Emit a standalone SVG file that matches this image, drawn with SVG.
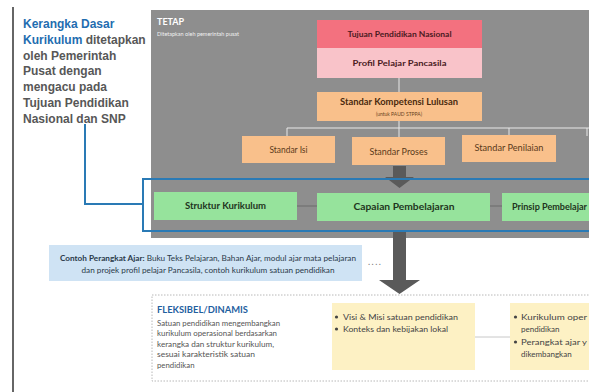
<svg xmlns="http://www.w3.org/2000/svg" width="589" height="392" viewBox="0 0 589 392">
<style>
.lt{font-family:"Liberation Sans",Arial,sans-serif;font-weight:bold;font-size:12px;fill:#575757}
.lb{fill:#1f6db0}
.s{font-family:Lato,"Open Sans",sans-serif}
.b{font-weight:bold}
.box{stroke:none}
.wl{stroke:#e8e8e8;stroke-width:1;fill:none}
.gl{stroke:#6a6a6a;stroke-width:1;fill:none}
.blue{stroke:#2a7ab5;stroke-width:2;fill:none}
</style>
<rect width="589" height="392" fill="#ffffff"/>
<line x1="13" y1="7" x2="13" y2="392" stroke="#333" stroke-width="1.5"/>

<g id="intro">
<text class="lt" x="23" y="28"><tspan class="lb">Kerangka Dasar</tspan></text>
<text class="lt" x="23" y="43.8"><tspan class="lb">Kurikulum</tspan> ditetapkan</text>
<text class="lt" x="23" y="59.6">oleh Pemerintah</text>
<text class="lt" x="23" y="75.4">Pusat dengan</text>
<text class="lt" x="23" y="91.2">mengacu pada</text>
<text class="lt" x="23" y="107">Tujuan Pendidikan</text>
<text class="lt" x="23" y="122.8">Nasional dan SNP</text>
</g>

<g id="tetap">
<rect x="151" y="10" width="438" height="228" fill="#8e8e8e"/>
<text class="s b" x="157" y="25" font-size="9" fill="#fff">TETAP</text>
<text class="s" x="157" y="36" font-size="5.5" fill="#f0f0f0">Ditetapkan oleh pemerintah pusat</text>
</g>

<g id="connectors">
<line class="wl" x1="399" y1="78" x2="399" y2="92"/>
<polyline class="wl" points="287,137 287,128 589,128"/>
<line class="wl" x1="399" y1="121" x2="399" y2="137"/>
<line class="wl" x1="509" y1="128" x2="509" y2="135"/>
<line class="wl" x1="587" y1="128" x2="587" y2="136"/>
<line class="gl" x1="297" y1="206" x2="317" y2="206"/>
<line class="gl" x1="490" y1="206" x2="502" y2="206"/>
<polyline class="blue" points="85,124 85,204 143,204"/>
<line x1="475" y1="337" x2="510" y2="337" stroke="#c8c8c8" stroke-width="1"/>
<text class="s" x="368" y="265" font-size="9" fill="#777" letter-spacing="1.5">....</text>
</g>

<g id="tujuan">
<rect class="box" x="317" y="20" width="165" height="28" fill="#f3717f"/>
<text class="s b" x="399.5" y="37" font-size="8.3" fill="#4a1a22" text-anchor="middle" textLength="104" lengthAdjust="spacingAndGlyphs">Tujuan Pendidikan Nasional</text>
</g>
<g id="profil">
<rect class="box" x="317" y="48" width="165" height="30" fill="#f9c3c9"/>
<text class="s b" x="399.5" y="66" font-size="8.3" fill="#4a1a22" text-anchor="middle" textLength="94" lengthAdjust="spacingAndGlyphs">Profil Pelajar Pancasila</text>
</g>
<g id="skl">
<rect class="box" x="317" y="92" width="165" height="29" fill="#f9c08b"/>
<text class="s b" x="399" y="105" font-size="8.5" fill="#4a2a0e" text-anchor="middle" textLength="118" lengthAdjust="spacingAndGlyphs">Standar Kompetensi Lulusan</text>
<text class="s" x="399" y="116" font-size="5" fill="#6a4420" text-anchor="middle">(untuk PAUD STPPA)</text>
</g>
<g id="standar-isi">
<rect class="box" x="242" y="136" width="93" height="27" fill="#f9c08b"/>
<text class="s" x="288.5" y="153" font-size="8.5" fill="#5a3a1a" text-anchor="middle" textLength="38" lengthAdjust="spacingAndGlyphs">Standar Isi</text>
</g>
<g id="standar-proses">
<rect class="box" x="352" y="137" width="93" height="28" fill="#f9c08b"/>
<text class="s" x="398.5" y="155" font-size="8.5" fill="#5a3a1a" text-anchor="middle" textLength="58" lengthAdjust="spacingAndGlyphs">Standar Proses</text>
</g>
<g id="standar-penilaian">
<rect class="box" x="462" y="135" width="94" height="27" fill="#f9c08b"/>
<text class="s" x="509" y="151" font-size="8.5" fill="#5a3a1a" text-anchor="middle" textLength="69" lengthAdjust="spacingAndGlyphs">Standar Penilaian</text>
</g>

<g id="arrow1">
<polygon points="393,166 406,166 406,177 414,177 399.5,188 385,177 393,177" fill="#5a5a5a"/>
</g>

<g id="kerangka">
<rect x="143" y="179" width="450" height="52" class="blue"/>
</g>
<g id="struktur">
<rect class="box" x="154" y="192" width="143" height="28" fill="#96e39c"/>
<text class="s b" x="225.5" y="209" font-size="8.5" fill="#1f3520" text-anchor="middle" textLength="81" lengthAdjust="spacingAndGlyphs">Struktur Kurikulum</text>
</g>
<g id="capaian">
<rect class="box" x="317" y="193" width="173" height="28" fill="#96e39c"/>
<text class="s b" x="404" y="210" font-size="8.5" fill="#1f3520" text-anchor="middle" textLength="101" lengthAdjust="spacingAndGlyphs">Capaian Pembelajaran</text>
</g>
<g id="prinsip">
<rect class="box" x="502" y="193" width="95" height="28" fill="#96e39c"/>
<text class="s b" x="512" y="210" font-size="8.5" fill="#1f3520" textLength="75" lengthAdjust="spacingAndGlyphs">Prinsip Pembelajar</text>
</g>

<g id="contoh">
<rect class="box" x="49" y="245" width="313" height="36" fill="#cfe3f4"/>
<text class="s" x="208" y="261" font-size="7.3" fill="#2a3a4a" text-anchor="middle" textLength="296" lengthAdjust="spacingAndGlyphs"><tspan font-weight="bold">Contoh Perangkat Ajar:</tspan> Buku Teks Pelajaran, Bahan Ajar, modul ajar mata pelajaran</text>
<text class="s" x="208" y="272.5" font-size="7.3" fill="#2a3a4a" text-anchor="middle" textLength="253" lengthAdjust="spacingAndGlyphs">dan projek profil pelajar Pancasila, contoh kurikulum satuan pendidikan</text>
</g>

<g id="arrow2">
<polygon points="393,232 406,232 406,280 420,280 399.5,294 379,280 393,280" fill="#5a5a5a"/>
</g>

<g id="fleksibel">
<rect x="152" y="295" width="445" height="86" fill="none" stroke="#b8b8b8" stroke-width="1" stroke-dasharray="1.5,1.5"/>
<text class="s b" x="157" y="313" font-size="9.5" fill="#1f5f9f" textLength="91" lengthAdjust="spacingAndGlyphs">FLEKSIBEL/DINAMIS</text>
<g class="s" font-size="7.8" fill="#555">
<text x="157" y="325.5" textLength="123" lengthAdjust="spacingAndGlyphs">Satuan pendidikan mengembangkan</text>
<text x="157" y="336" textLength="120" lengthAdjust="spacingAndGlyphs">kurikulum operasional berdasarkan</text>
<text x="157" y="346.5" textLength="117" lengthAdjust="spacingAndGlyphs">kerangka dan struktur kurikulum,</text>
<text x="157" y="357" textLength="98" lengthAdjust="spacingAndGlyphs">sesuai karakteristik satuan</text>
<text x="157" y="367.5">pendidikan</text>
</g>
</g>

<g id="konteks">
<rect class="box" x="332" y="303" width="143" height="67" fill="#fdf1c4"/>
<g class="s" font-size="7.8" fill="#444">
<circle cx="336.5" cy="317" r="1.6" fill="#444"/>
<text x="343" y="320" textLength="115" lengthAdjust="spacingAndGlyphs">Visi &amp; Misi satuan pendidikan</text>
<circle cx="336.5" cy="329" r="1.6" fill="#444"/>
<text x="343" y="332" textLength="105" lengthAdjust="spacingAndGlyphs">Konteks dan kebijakan lokal</text>
</g>
</g>

<g id="operasional">
<rect class="box" x="510" y="303" width="85" height="67" fill="#fdf1c4"/>
<g class="s" font-size="8" fill="#444">
<circle cx="515.5" cy="317" r="1.6" fill="#444"/>
<text x="521" y="320" textLength="66" lengthAdjust="spacingAndGlyphs">Kurikulum oper</text>
<text x="521" y="332">pendidikan</text>
<circle cx="515.5" cy="342" r="1.6" fill="#444"/>
<text x="521" y="345" textLength="66" lengthAdjust="spacingAndGlyphs">Perangkat ajar y</text>
<text x="521" y="357">dikembangkan</text>
</g>
</g>
</svg>
